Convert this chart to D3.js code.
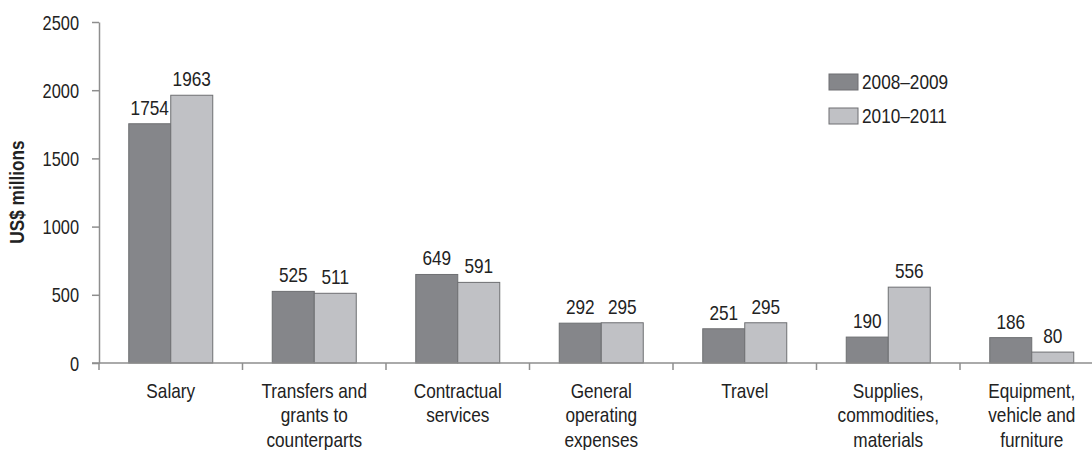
<!DOCTYPE html>
<html>
<head>
<meta charset="utf-8">
<script src="https://cdn.jsdelivr.net/npm/d3@7"></script>
<style>
  html, body { margin: 0; padding: 0; background: #fff; }
  svg { display: block; }
  text { font-family: "Liberation Sans", Arial, sans-serif; fill: #222; }
</style>
</head>
<body>
<svg id="chart" width="1092" height="450"></svg>
<script>
// Spending by category, two bienniums (US$ millions)
const categories = [
  ["Salary"],
  ["Transfers and", "grants to", "counterparts"],
  ["Contractual", "services"],
  ["General", "operating", "expenses"],
  ["Travel"],
  ["Supplies,", "commodities,", "materials"],
  ["Equipment,", "vehicle and", "furniture"]
];
const seriesNames = ["2008\u20132009", "2010\u20132011"];
const values2008_2009 = [1754, 525, 649, 292, 251, 190, 186];
const values2010_2011 = [1963, 511, 591, 295, 295, 556, 80];
const yTicks = [0, 500, 1000, 1500, 2000, 2500];

const colors = ["#85868a", "#c0c1c5"];
const series = [values2008_2009, values2010_2011];

// Condensed lettering: regular face squeezed horizontally
const squeeze = 0.82;
const place = (x, y, extra = "") => `translate(${x},${y}) ${extra} scale(${squeeze},1)`;

const svg = d3.select("#chart");
const plotLeft = 99, plotTop = 22, plotBottom = 363, band = 143.5;
const catKeys = categories.map(c => c.join(" "));

const x0 = d3.scaleBand().domain(catKeys).range([plotLeft, plotLeft + band * catKeys.length]).padding(0);
const pairW = 84;
const x1 = d3.scaleBand().domain(seriesNames).range([0, pairW]).padding(0);
const y = d3.scaleLinear().domain([0, 2500]).range([plotBottom, plotTop]);
const barX = (i, si) => x0(catKeys[i]) + (x0.bandwidth() - pairW) / 2 + x1(seriesNames[si]);

// Bars
series.forEach((vals, si) => {
  svg.append("g").selectAll("rect")
    .data(vals)
    .join("rect")
    .attr("x", (d, i) => barX(i, si))
    .attr("y", d => y(d))
    .attr("width", x1.bandwidth())
    .attr("height", d => y(0) - y(d))
    .attr("fill", colors[si])
    .attr("stroke", "#6e6f72")
    .attr("stroke-width", 1);
});

// Value labels above bars
series.forEach((vals, si) => {
  svg.append("g").selectAll("text")
    .data(vals)
    .join("text")
    .attr("transform", (d, i) => place(barX(i, si) + x1.bandwidth() / 2, y(d) - 9))
    .attr("text-anchor", "middle")
    .style("font-size", "21px")
    .text(d => d);
});

// Y axis
const yAxis = svg.append("g")
  .attr("transform", `translate(${plotLeft},0)`)
  .call(d3.axisLeft(y).tickValues(yTicks).tickFormat(d3.format("d")).tickSize(7).tickSizeOuter(0));
yAxis.select(".domain").attr("stroke", "#8e8e8e").attr("stroke-width", 1.5);
yAxis.selectAll(".tick line").attr("stroke", "#8e8e8e").attr("stroke-width", 1.5);
yAxis.selectAll(".tick text")
  .attr("x", 0).attr("dy", "0.35em")
  .attr("transform", place(-20, 0))
  .style("font-size", "20px").attr("fill", "#222");

// X axis: baseline with ticks at category boundaries
const xAxisG = svg.append("g");
xAxisG.append("line")
  .attr("x1", plotLeft - 7).attr("x2", 1092)
  .attr("y1", y(0)).attr("y2", y(0))
  .attr("stroke", "#8e8e8e").attr("stroke-width", 1.5);
xAxisG.selectAll("line.tk")
  .data(catKeys)
  .join("line")
  .attr("class", "tk")
  .attr("x1", d => x0(d)).attr("x2", d => x0(d))
  .attr("y1", y(0)).attr("y2", y(0) + 7)
  .attr("stroke", "#8e8e8e").attr("stroke-width", 1.5);

// Category labels (multi-line)
const catLabels = svg.append("g").selectAll("text")
  .data(categories)
  .join("text")
  .attr("text-anchor", "middle")
  .style("font-size", "21px")
  .attr("transform", (d, i) => place(x0(catKeys[i]) + x0.bandwidth() / 2, 398));
catLabels.selectAll("tspan")
  .data(d => d)
  .join("tspan")
  .attr("x", 0)
  .attr("dy", (d, i) => i === 0 ? 0 : 24.5)
  .text(d => d);

// Y axis title
svg.append("text")
  .attr("transform", place(24, 192, "rotate(-90)"))
  .attr("text-anchor", "middle")
  .style("font-size", "21px")
  .style("font-weight", "bold")
  .text("US$ millions");

// Legend
const legend = svg.append("g").attr("transform", "translate(829,74)");
seriesNames.forEach((name, i) => {
  const g = legend.append("g").attr("transform", `translate(0,${i * 34})`);
  g.append("rect")
    .attr("width", 29).attr("height", 16)
    .attr("fill", colors[i])
    .attr("stroke", "#6e6f72").attr("stroke-width", 1);
  g.append("text")
    .attr("transform", place(33, 15))
    .style("font-size", "21px")
    .text(name);
});
</script>
</body>
</html>
